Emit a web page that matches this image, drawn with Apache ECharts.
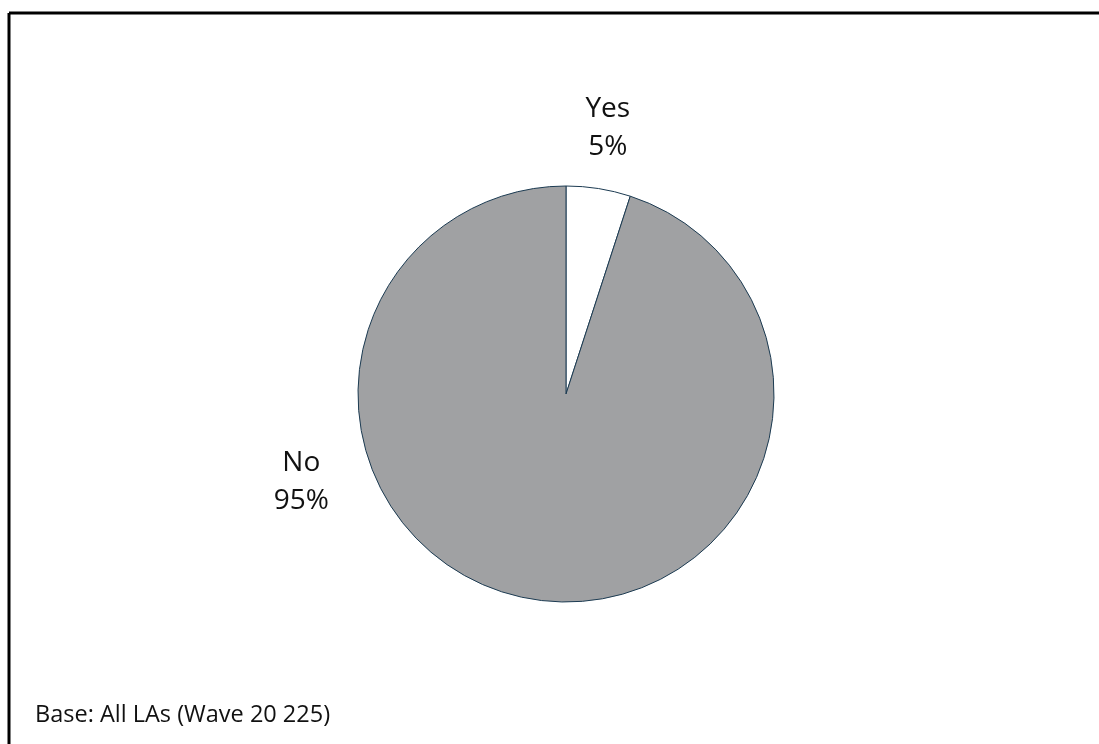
<!DOCTYPE html>
<html><head><meta charset="utf-8">
<script src="https://cdn.jsdelivr.net/npm/echarts@6/dist/echarts.min.js"></script>
<style>html,body{margin:0;padding:0;background:#fff}#c{width:1099px;height:744px}</style>
</head><body><div id="c"></div>
<script>
const categories = ['Yes', 'No'];
const values = [5, 95];
const footnote = 'Base: All LAs (Wave 20 225)';

const colors = ['#ffffff', '#a0a1a3'];
const labelOffsets = [[25, -160], [-248, -18]];

const chart = echarts.init(document.getElementById('c'), null, {renderer: 'canvas'});
chart.setOption({
  animation: false,
  backgroundColor: '#fff',
  graphic: [
    {type: 'line', shape: {x1: 9, y1: 13, x2: 1099, y2: 13}, style: {stroke: '#000', lineWidth: 3}},
    {type: 'line', shape: {x1: 9, y1: 13, x2: 9, y2: 744}, style: {stroke: '#000', lineWidth: 3}},
    {type: 'text', left: 35, top: 703, style: {text: footnote, font: '23.5px "Open Sans"', fill: '#111'}}
  ],
  series: [{
    type: 'pie',
    center: [566, 394],
    radius: 208,
    startAngle: 90,
    clockwise: true,
    itemStyle: {borderColor: '#1c3b52', borderWidth: 1},
    labelLine: {show: false},
    label: {
      show: true, position: 'inside', align: 'center',
      fontFamily: 'Open Sans', fontSize: 28, color: '#111', lineHeight: 38,
      formatter: p => p.name + '\n' + p.value + '%'
    },
    data: categories.map((c, i) => ({
      name: c, value: values[i],
      itemStyle: {color: colors[i]},
      label: {offset: labelOffsets[i]}
    }))
  }]
});
</script></body></html>
